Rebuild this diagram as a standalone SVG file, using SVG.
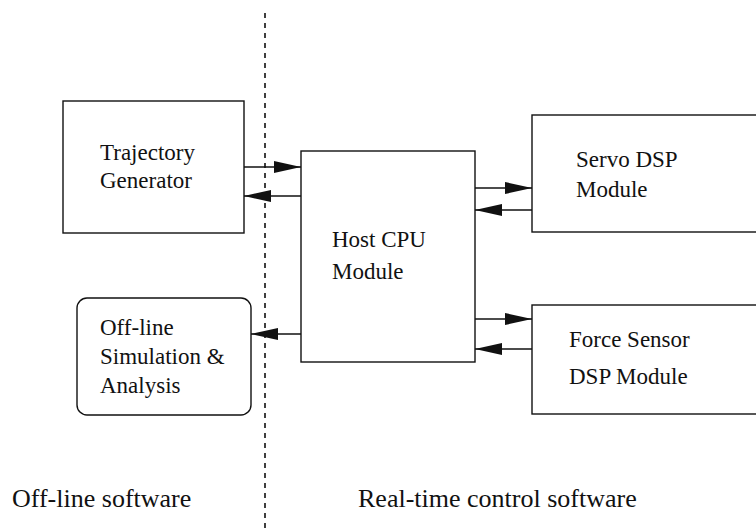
<svg xmlns="http://www.w3.org/2000/svg" width="756" height="529" viewBox="0 0 756 529">
  <style>
    .box { fill: #fff; stroke: #111; stroke-width: 1.4; }
    text { font-family: 'Liberation Serif', 'DejaVu Serif', serif; fill: #111; }
    .lbl { font-size: 23px; }
    .big { font-size: 26px; }
    .wire { stroke: #111; stroke-width: 1.4; fill: none; marker-end: url(#head); }
    .divider { stroke: #111; stroke-width: 1.6; stroke-dasharray: 5 5; }
  </style>
  <defs>
    <marker id="head" markerUnits="userSpaceOnUse" markerWidth="27" markerHeight="12" refX="27" refY="6" orient="auto">
      <path d="M0,0 L27,6 L0,12 Z" fill="#111"/>
    </marker>
  </defs>
  <rect width="756" height="529" fill="#fff"/>

  <!-- boundary between off-line and real-time parts -->
  <line class="divider" x1="265" y1="13" x2="265" y2="529"/>

  <g id="trajectory-generator" font-family="Liberation Serif, serif">
    <rect class="box" x="63" y="101" width="181" height="132"/>
    <text class="lbl" x="100" y="160">Trajectory</text>
    <text class="lbl" x="100" y="188">Generator</text>
  </g>

  <g id="offline-simulation" font-family="Liberation Serif, serif">
    <rect class="box" x="77" y="298" width="174" height="117" rx="10" ry="10"/>
    <text class="lbl" x="100" y="335">Off-line</text>
    <text class="lbl" x="100" y="364">Simulation &amp;</text>
    <text class="lbl" x="100" y="393">Analysis</text>
  </g>

  <g id="host-cpu" font-family="Liberation Serif, serif">
    <rect class="box" x="301" y="151" width="174" height="211"/>
    <text class="lbl" x="332" y="247">Host CPU</text>
    <text class="lbl" x="332" y="279">Module</text>
  </g>

  <g id="servo-dsp" font-family="Liberation Serif, serif">
    <rect class="box" x="532" y="115" width="230" height="117"/>
    <text class="lbl" x="576" y="167">Servo DSP</text>
    <text class="lbl" x="576" y="197">Module</text>
  </g>

  <g id="force-sensor-dsp" font-family="Liberation Serif, serif">
    <rect class="box" x="532" y="305" width="230" height="109"/>
    <text class="lbl" x="569" y="347">Force Sensor</text>
    <text class="lbl" x="569" y="384">DSP Module</text>
  </g>

  <g id="connectors">
    <line class="wire" x1="244" y1="167" x2="301" y2="167"/>
    <line class="wire" x1="301" y1="196" x2="244" y2="196"/>
    <line class="wire" x1="475" y1="188" x2="532" y2="188"/>
    <line class="wire" x1="532" y1="210" x2="475" y2="210"/>
    <line class="wire" x1="301" y1="334" x2="251" y2="334"/>
    <line class="wire" x1="475" y1="319" x2="532" y2="319"/>
    <line class="wire" x1="532" y1="349" x2="475" y2="349"/>
  </g>

  <g id="region-labels" font-family="Liberation Serif, serif">
    <text class="big" x="12" y="507">Off-line software</text>
    <text class="big" x="358" y="507">Real-time control software</text>
  </g>
</svg>
